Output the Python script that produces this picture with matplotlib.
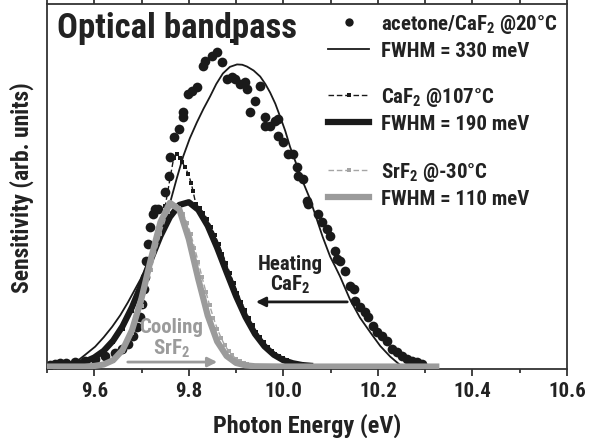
import matplotlib
matplotlib.use('Agg')
import matplotlib.pyplot as plt
from matplotlib.lines import Line2D
from matplotlib.ticker import MultipleLocator
from matplotlib import font_manager

# narrow bold sans like the original; take the first one that is installed
have = {f.name for f in font_manager.fontManager.ttflist}
FONT = next((f for f in ['Roboto Condensed', 'IBM Plex Sans Condensed', 'Liberation Sans'] if f in have),
            'DejaVu Sans')
plt.rcParams['font.family'] = [FONT, 'DejaVu Sans']
plt.rcParams['font.weight'] = 'bold'
plt.rcParams['mathtext.fontset'] = 'custom'
plt.rcParams['mathtext.rm'] = FONT + ':bold'
plt.rcParams['mathtext.it'] = FONT + ':bold'
plt.rcParams['mathtext.bf'] = FONT + ':bold'

# acetone/CaF2 @20C  (measured points)
ace_e = [9.506, 9.517, 9.528, 9.540, 9.559, 9.580, 9.602, 9.623, 9.644, 9.659, 9.671,
         9.682, 9.690, 9.697, 9.701, 9.705, 9.707, 9.710, 9.714, 9.718, 9.724, 9.729,
         9.735, 9.750, 9.758, 9.760, 9.769, 9.779, 9.788, 9.788, 9.798, 9.807, 9.817,
         9.830, 9.834, 9.849, 9.860, 9.870,
         9.881, 9.892, 9.898, 9.908, 9.919, 9.923, 9.951, 9.940, 9.930, 9.961, 9.961,
         9.972, 9.983, 9.989, 9.989, 9.999, 10.010, 10.021, 10.029, 10.031, 10.042,
         10.050, 10.052, 10.074, 10.082, 10.093, 10.099, 10.110, 10.114, 10.120, 10.131,
         10.141, 10.150, 10.152, 10.162, 10.173, 10.179, 10.190, 10.198, 10.209, 10.220,
         10.230, 10.241, 10.251, 10.262, 10.272, 10.283, 10.294]
ace_v = [0.005, 0.008, 0.012, 0.012, 0.015, 0.018, 0.025, 0.035, 0.045, 0.058, 0.075,
         0.101, 0.131, 0.164, 0.207, 0.257, 0.296, 0.349, 0.406, 0.462, 0.505, 0.522,
         0.522, 0.578, 0.631, 0.694, 0.760, 0.786, 0.826, 0.843, 0.902, 0.912, 0.925,
         0.994, 1.011, 1.027, 1.041, 1.008,
         0.952, 0.959, 0.952, 0.935, 0.942, 0.919, 0.929, 0.879, 0.843, 0.826, 0.796,
         0.796, 0.813, 0.820, 0.763, 0.743, 0.704, 0.704, 0.661, 0.631, 0.621,
         0.548, 0.538, 0.505, 0.478, 0.455, 0.432, 0.382, 0.356, 0.349, 0.316,
         0.267, 0.257, 0.217, 0.197, 0.180, 0.164, 0.134, 0.114, 0.101, 0.084,
         0.058, 0.048, 0.035, 0.025, 0.018, 0.015, 0.008]

# fit, FWHM = 330 meV
fit330_e = [9.534, 9.559, 9.580, 9.602, 9.620, 9.638, 9.655, 9.671, 9.686, 9.701, 9.715,
            9.729, 9.740, 9.750, 9.760, 9.774, 9.788, 9.802, 9.817, 9.831, 9.845, 9.858,
            9.872, 9.887, 9.902, 9.913, 9.923, 9.937, 9.951, 9.962, 9.972, 9.983, 9.993,
            10.004, 10.014, 10.028, 10.042, 10.055, 10.067, 10.083, 10.099, 10.110, 10.120,
            10.141, 10.162, 10.184, 10.205, 10.226, 10.247, 10.268]
fit330_v = [-0.026, 0.012, 0.038, 0.066, 0.097, 0.132, 0.170, 0.212, 0.255, 0.298, 0.345,
            0.397, 0.442, 0.487, 0.540, 0.620, 0.695, 0.755, 0.808, 0.853, 0.894, 0.935,
            0.970, 0.992, 1.000, 0.999, 0.993, 0.980, 0.960, 0.935, 0.907, 0.870, 0.828,
            0.780, 0.728, 0.668, 0.609, 0.560, 0.505, 0.430, 0.364, 0.330, 0.298,
            0.222, 0.162, 0.113, 0.068, 0.033, 0.005, -0.020]

# CaF2 @107C  (measured)
caf2_e = [9.52, 9.54, 9.56, 9.58, 9.60, 9.62, 9.64, 9.66, 9.68, 9.70, 9.72, 9.735, 9.75,
          9.76, 9.768, 9.775, 9.781, 9.786, 9.792, 9.799, 9.805, 9.809,
          9.815, 9.823, 9.831, 9.839, 9.847, 9.855, 9.863, 9.871, 9.879, 9.887, 9.895,
          9.903, 9.911, 9.919, 9.927, 9.935, 9.943, 9.951, 9.959, 9.967, 9.975, 9.983,
          9.991, 9.999, 10.007, 10.015, 10.023, 10.031, 10.039, 10.047, 10.055, 10.063]
caf2_v = [0.008, 0.010, 0.012, 0.016, 0.028, 0.048, 0.080, 0.125, 0.185, 0.260, 0.350, 0.430, 0.530,
          0.620, 0.690, 0.703, 0.690, 0.676, 0.660, 0.637, 0.608, 0.580,
          0.537, 0.525, 0.509, 0.488, 0.463, 0.436, 0.406, 0.374, 0.342, 0.309, 0.276,
          0.245, 0.215, 0.187, 0.161, 0.137, 0.116, 0.097, 0.080, 0.066, 0.053, 0.043,
          0.034, 0.027, 0.021, 0.016, 0.012, 0.009, 0.007, 0.005, 0.004, 0.003]
caf2_spike_e = [9.892]
caf2_spike_v = [1.078]

# fit, FWHM = 190 meV
fit190_e = [9.50, 9.54, 9.58, 9.60, 9.62, 9.64, 9.66, 9.68, 9.70, 9.72, 9.74, 9.76, 9.78,
            9.80, 9.82, 9.84, 9.86, 9.88, 9.90, 9.92, 9.94, 9.96, 9.98, 10.00, 10.02,
            10.04, 10.063]
fit190_v = [0.001, 0.004, 0.016, 0.030, 0.052, 0.086, 0.134, 0.197, 0.273, 0.355, 0.432,
            0.495, 0.535, 0.544, 0.519, 0.466, 0.393, 0.312, 0.233, 0.164, 0.108, 0.067,
            0.039, 0.021, 0.011, 0.005, 0.002]

# SrF2 @-30C  (measured)
srf2_e = [9.60, 9.64, 9.66, 9.68, 9.70, 9.72, 9.74, 9.755, 9.765, 9.772, 9.780, 9.788,
          9.796, 9.804, 9.812, 9.820, 9.828, 9.836, 9.844, 9.852, 9.860, 9.868, 9.876,
          9.884, 9.892, 9.900, 9.908, 9.916, 9.924, 9.932, 9.940, 9.948, 9.956, 9.970]
srf2_v = [0.002, 0.020, 0.050, 0.110, 0.200, 0.320, 0.440, 0.510, 0.530, 0.530, 0.524, 0.506,
          0.476, 0.438, 0.394, 0.346, 0.296, 0.248, 0.203, 0.162, 0.126, 0.096, 0.071,
          0.052, 0.037, 0.026, 0.017, 0.011, 0.007, 0.005, 0.003, 0.002, 0.001, 0.000]

# fit, FWHM = 110 meV
fit110_e = [9.50, 9.58, 9.60, 9.62, 9.64, 9.66, 9.68, 9.70, 9.72, 9.74, 9.76, 9.78, 9.80,
            9.82, 9.84, 9.86, 9.88, 9.90, 9.92, 9.94, 10.00, 10.33]
fit110_v = [0.0, 0.0, 0.002, 0.007, 0.021, 0.055, 0.121, 0.226, 0.357, 0.478, 0.542, 0.520,
            0.422, 0.290, 0.169, 0.083, 0.035, 0.012, 0.004, 0.001, 0.0, 0.0]

GRAY = '#9b9b9b'
DARK = '#1a1a1a'

fig = plt.figure(figsize=(6.0, 4.39), dpi=100)
ax = fig.add_axes([0.0783, 0.1572, 0.8667, 0.8314])

ax.plot(ace_e, ace_v, 'o', color=DARK, ms=7, mew=0, zorder=2)
ax.plot(fit330_e, fit330_v, '-', color=DARK, lw=1.3, zorder=3)
ax.plot(caf2_e, caf2_v, color=DARK, ls=(0, (4, 2)), lw=1, marker='s', ms=3.5, mew=0, zorder=4)
ax.plot(caf2_spike_e, caf2_spike_v, 's', color=DARK, ms=3.5, mew=0, zorder=4)
ax.plot(fit190_e, fit190_v, '-', color=DARK, lw=4.5, zorder=5, solid_capstyle='butt')
ax.plot(srf2_e, srf2_v, color='#a5a5a5', ls=(0, (4, 2)), lw=1, marker='s', ms=3.5, mew=0, zorder=6)
ax.plot(fit110_e, fit110_v, '-', color=GRAY, lw=4.5, zorder=7, solid_capstyle='butt')

ax.set_xlim(9.5, 10.6)
ax.set_ylim(-0.008, 1.2)
ax.xaxis.set_major_locator(MultipleLocator(0.2))
ax.xaxis.set_minor_locator(MultipleLocator(0.1))
ax.set_yticks([])
ax.tick_params(axis='x', which='both', direction='out', top=True, labelsize=15, width=1.2, colors='#222222')
ax.tick_params(axis='x', which='major', length=5)
ax.tick_params(axis='x', which='minor', length=3)
for s in ax.spines.values():
    s.set_linewidth(1.3)
    s.set_color('#333333')

ax.set_xlabel('Photon Energy (eV)', fontsize=17.5, fontweight='bold', labelpad=9, color='#222222')
ax.set_ylabel('Sensitivity (arb. units)', fontsize=17, fontweight='bold', labelpad=9, color='#222222')

ax.text(0.02, 0.982, 'Optical bandpass', transform=ax.transAxes, fontsize=25,
        fontweight='bold', va='top', ha='left', color='#222222')

# annotations
ax.text(10.015, 0.305, 'Heating\nCaF$_2$', fontsize=15, fontweight='bold', ha='center', va='center',
        color='#222222', linespacing=1.0)
ax.annotate('', xy=(9.936, 0.214), xytext=(10.141, 0.214),
            arrowprops=dict(arrowstyle='-|>', color=DARK, lw=2, mutation_scale=14))
ax.text(9.763, 0.095, 'Cooling\nSrF$_2$', fontsize=15, fontweight='bold', ha='center', va='center',
        color=GRAY, linespacing=1.0)
ax.annotate('', xy=(9.866, 0.015), xytext=(9.665, 0.015),
            arrowprops=dict(arrowstyle='-|>', color=GRAY, lw=2, mutation_scale=14))

# legends, three groups
leg_kw = dict(frameon=False, fontsize=15, handlelength=2.0, handletextpad=0.55,
              labelspacing=0.3, borderpad=0, borderaxespad=0, loc='upper left', numpoints=1)
h1 = [Line2D([], [], ls='none', marker='o', color=DARK, ms=6, mew=0),
      Line2D([], [], color=DARK, lw=1.3)]
h2 = [Line2D([], [], color=DARK, ls=(0, (4, 2)), lw=1, marker='s', ms=3.5, mew=0),
      Line2D([], [], color=DARK, lw=4.5)]
h3 = [Line2D([], [], color='#a5a5a5', ls=(0, (4, 2)), lw=1, marker='s', ms=3.5, mew=0),
      Line2D([], [], color=GRAY, lw=4.5)]
l1 = ax.legend(h1, ['acetone/CaF$_2$ @20°C', 'FWHM = 330 meV'], bbox_to_anchor=(0.54, 0.978), **leg_kw)
ax.add_artist(l1)
l2 = ax.legend(h2, ['CaF$_2$ @107°C', 'FWHM = 190 meV'], bbox_to_anchor=(0.54, 0.778), **leg_kw)
ax.add_artist(l2)
l3 = ax.legend(h3, ['SrF$_2$ @-30°C', 'FWHM = 110 meV'], bbox_to_anchor=(0.54, 0.573), **leg_kw)
for lg in (l1, l2, l3):
    for t in lg.get_texts():
        t.set_color('#222222')

fig.savefig('out.png', dpi=100)
